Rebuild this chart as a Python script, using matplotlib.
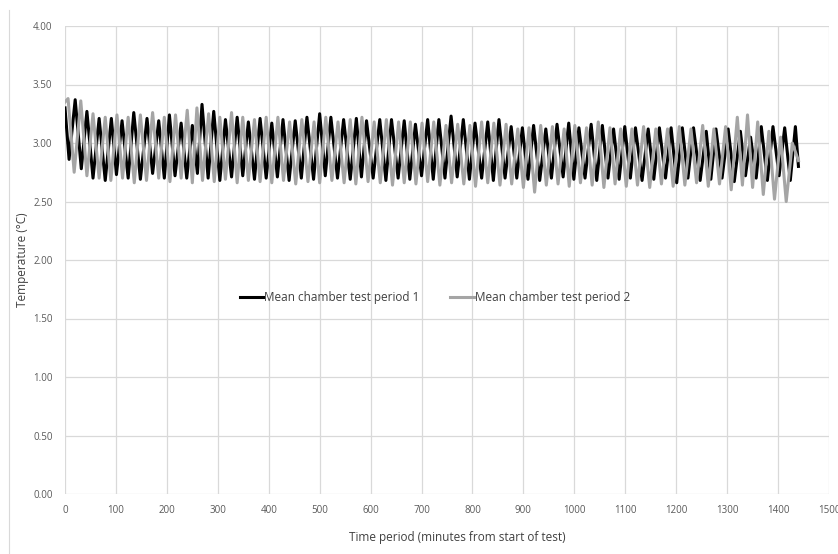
import matplotlib
matplotlib.use("Agg")
import matplotlib.pyplot as plt
from matplotlib.lines import Line2D
import numpy as np

plt.rcParams['font.family'] = ['Open Sans', 'DejaVu Sans']

# ---- data (peaks and troughs of each series) ----
black_peak_t = [0, 20, 43, 67, 91, 112, 135, 161, 184,
                205, 228, 250, 269, 292, 315, 338, 360, 383,
                406, 428, 452, 475, 500, 522, 547, 572, 592,
                618, 641, 666, 688, 712, 734, 758, 782, 805,
                830, 852, 876, 898, 920, 944, 966, 989, 1009,
                1033, 1055, 1077, 1099, 1120, 1145, 1167, 1190, 1212,
                1234, 1259, 1278, 1302, 1326, 1346, 1367, 1390, 1413, 1434]
black_peak_v = [3.30, 3.37, 3.27, 3.21, 3.21, 3.19, 3.26, 3.21, 3.19,
                3.24, 3.17, 3.15, 3.33, 3.27, 3.20, 3.22, 3.18, 3.21,
                3.17, 3.20, 3.19, 3.22, 3.25, 3.22, 3.20, 3.21, 3.19,
                3.20, 3.20, 3.19, 3.16, 3.20, 3.20, 3.23, 3.20, 3.17,
                3.18, 3.20, 3.14, 3.13, 3.15, 3.12, 3.16, 3.17, 3.13,
                3.16, 3.15, 3.12, 3.14, 3.13, 3.12, 3.13, 3.13, 3.13,
                3.13, 3.10, 3.12, 3.12, 3.10, 3.05, 3.14, 3.14, 3.13, 3.14]
black_trough_t = [8, 32, 55, 79, 101, 124, 148, 172, 195,
                  216, 239, 260, 281, 304, 327, 349, 372, 395,
                  417, 440, 464, 488, 511, 535, 560, 582, 605,
                  630, 654, 677, 700, 723, 746, 770, 794, 818,
                  841, 864, 887, 909, 932, 955, 978, 999, 1021,
                  1044, 1066, 1088, 1110, 1133, 1156, 1179, 1201, 1223,
                  1247, 1268, 1290, 1314, 1336, 1357, 1379, 1402, 1424, 1440]
black_trough_v = [2.86, 2.78, 2.70, 2.68, 2.73, 2.70, 2.69, 2.74, 2.70,
                  2.72, 2.70, 2.74, 2.70, 2.68, 2.71, 2.72, 2.69, 2.70,
                  2.71, 2.68, 2.70, 2.69, 2.72, 2.70, 2.69, 2.71, 2.70,
                  2.68, 2.70, 2.69, 2.72, 2.69, 2.70, 2.71, 2.69, 2.70,
                  2.68, 2.70, 2.70, 2.69, 2.68, 2.70, 2.71, 2.69, 2.70,
                  2.68, 2.70, 2.69, 2.70, 2.68, 2.69, 2.70, 2.66, 2.70,
                  2.68, 2.69, 2.70, 2.67, 2.72, 2.70, 2.68, 2.72, 2.68, 2.80]

gray_peak_t = [0, 6, 31, 55, 79, 102, 124, 148, 172,
               195, 217, 240, 259, 282, 304, 327, 349, 372,
               395, 418, 441, 465, 489, 512, 536, 560, 583,
               607, 631, 655, 678, 701, 724, 748, 771, 795,
               818, 842, 866, 889, 911, 934, 957, 980, 1001,
               1024, 1047, 1070, 1091, 1113, 1136, 1160, 1183, 1206,
               1229, 1252, 1274, 1297, 1320, 1340, 1360, 1382, 1405, 1428]
gray_peak_v = [3.35, 3.38, 3.36, 3.25, 3.22, 3.24, 3.22, 3.24, 3.26,
               3.22, 3.24, 3.28, 3.30, 3.25, 3.22, 3.26, 3.22, 3.20,
               3.22, 3.22, 3.18, 3.20, 3.18, 3.22, 3.18, 3.20, 3.22,
               3.18, 3.20, 3.18, 3.18, 3.17, 3.18, 3.15, 3.16, 3.15,
               3.18, 3.17, 3.16, 3.12, 3.13, 3.15, 3.14, 3.12, 3.15,
               3.13, 3.18, 3.13, 3.12, 3.12, 3.14, 3.12, 3.12, 3.14,
               3.12, 3.15, 3.12, 3.14, 3.22, 3.24, 3.18, 3.10, 3.05, 3.00]
gray_trough_t = [18, 43, 67, 90, 113, 136, 160, 184,
                 206, 228, 250, 270, 293, 315, 338, 360, 383,
                 406, 429, 453, 477, 500, 524, 548, 571, 595,
                 619, 643, 666, 689, 712, 736, 759, 783, 806,
                 830, 854, 877, 900, 922, 945, 968, 990, 1012,
                 1035, 1058, 1080, 1102, 1124, 1148, 1171, 1194, 1217,
                 1240, 1263, 1285, 1308, 1330, 1350, 1371, 1393, 1416, 1440]
gray_trough_v = [2.75, 2.72, 2.70, 2.68, 2.70, 2.66, 2.68, 2.70,
                 2.67, 2.70, 2.66, 2.68, 2.67, 2.69, 2.66, 2.68, 2.67,
                 2.66, 2.68, 2.65, 2.67, 2.66, 2.68, 2.66, 2.65, 2.67,
                 2.66, 2.64, 2.66, 2.65, 2.67, 2.64, 2.66, 2.65, 2.63,
                 2.66, 2.64, 2.65, 2.62, 2.58, 2.64, 2.65, 2.63, 2.66,
                 2.64, 2.62, 2.65, 2.63, 2.64, 2.62, 2.65, 2.63, 2.64,
                 2.66, 2.63, 2.65, 2.60, 2.64, 2.62, 2.56, 2.52, 2.50, 2.85]

series1_name = "Mean chamber test period 1"
series2_name = "Mean chamber test period 2"
x_ticks = list(range(0, 1501, 100))
y_ticks = [0.0, 0.5, 1.0, 1.5, 2.0, 2.5, 3.0, 3.5, 4.0]


def merge(pt, pv, tt, tv):
    t = np.array(pt + tt, dtype=float)
    v = np.array(pv + tv, dtype=float)
    o = np.argsort(t, kind="stable")
    return t[o], v[o]


bt, bv = merge(black_peak_t, black_peak_v, black_trough_t, black_trough_v)
gt, gv = merge(gray_peak_t, gray_peak_v, gray_trough_t, gray_trough_v)

fig = plt.figure(figsize=(8.38, 5.54), dpi=100)
ax = fig.add_axes([65 / 838, 1 - 494 / 554, (829 - 65) / 838, (494 - 26) / 554])

ax.plot(bt, bv, color="black", lw=2.2, solid_joinstyle="round", label=series1_name, zorder=3)
ax.plot(gt, gv, color="#a5a5a5", lw=2.2, solid_joinstyle="round", label=series2_name, zorder=3)

ax.set_xlim(0, 1500)
ax.set_ylim(0, 4.0)
ax.set_xticks(x_ticks)
ax.set_yticks(y_ticks)
ax.set_xticklabels([str(v) for v in x_ticks])
ax.set_yticklabels([f"{v:.2f}" for v in y_ticks])
ax.grid(True, color="#d9d9d9", lw=0.9)
ax.set_axisbelow(True)
for s in ax.spines.values():
    s.set_visible(False)
ax.tick_params(length=0, labelsize=7, colors="#595959", pad=8)
ax.tick_params(axis="y", pad=9)

ax.set_xlabel("Time period (minutes from start of test)", fontsize=8.5, color="#404040")
ax.xaxis.set_label_coords((457 - 65) / 764, -(537 - 494) / 468)
ax.xaxis.label.set_va("center")
ax.set_ylabel("Temperature (°C)", fontsize=8.5, color="#404040", labelpad=3)

leg = ax.legend(loc="center", bbox_to_anchor=(0.5 - 12 / 764, 1.68 / 4.0), ncol=2, frameon=False,
                fontsize=8.5, handlelength=2.0, handletextpad=0.1, columnspacing=2.6,
                labelcolor="#404040")
for h in leg.get_lines():
    h.set_linewidth(2.2)

fig.add_artist(Line2D([9 / 838, 9 / 838], [0, 1 - 10 / 554], transform=fig.transFigure,
                      color="#d9d9d9", lw=0.8))

fig.savefig("out.png", dpi=100)
